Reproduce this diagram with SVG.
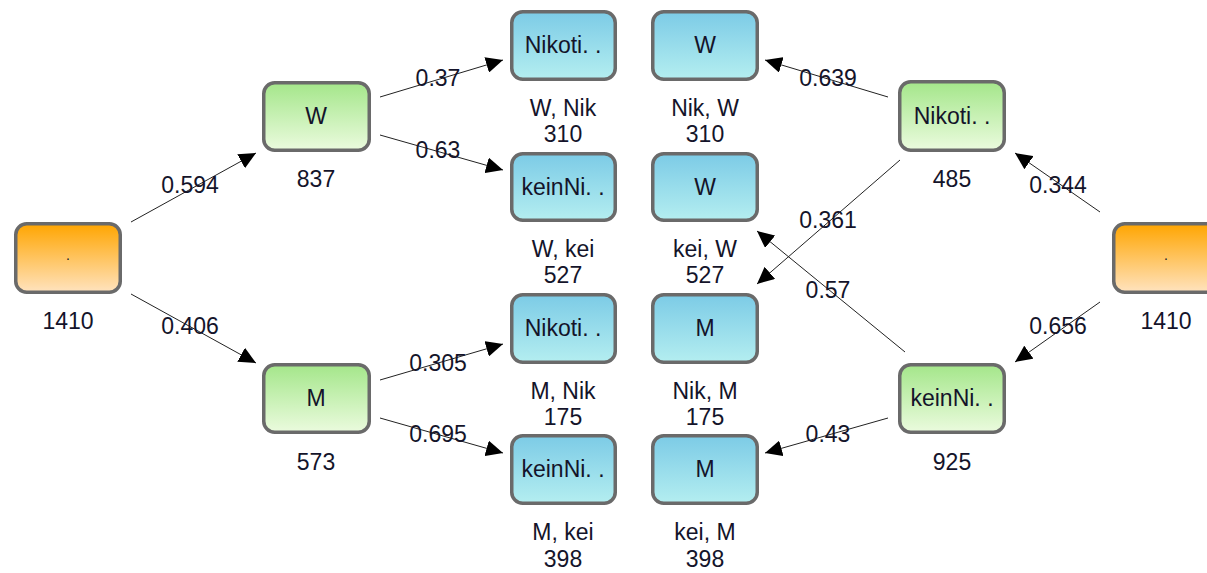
<svg xmlns="http://www.w3.org/2000/svg" width="1207" height="573" viewBox="0 0 1207 573">
  <defs>
    <linearGradient id="gOrange" x1="0" y1="0" x2="0" y2="1">
      <stop offset="0" stop-color="#ffa500"/>
      <stop offset="1" stop-color="#ffe3bf"/>
    </linearGradient>
    <linearGradient id="gGreen" x1="0" y1="0" x2="0" y2="1">
      <stop offset="0" stop-color="#a4e68a"/>
      <stop offset="1" stop-color="#ebfbde"/>
    </linearGradient>
    <linearGradient id="gBlue" x1="0" y1="0" x2="0" y2="1">
      <stop offset="0" stop-color="#7ccbe6"/>
      <stop offset="1" stop-color="#b4eef0"/>
    </linearGradient>
    <marker id="arrow" markerUnits="userSpaceOnUse" markerWidth="18" markerHeight="16" refX="17" refY="8" orient="auto">
      <path d="M0,0 L17,8 L0,16 Z" fill="#000"/>
    </marker>
  </defs>
  <style>
    .box { stroke: #6a6a6a; stroke-width: 3.5; }
    .root { fill: url(#gOrange); }
    .mid { fill: url(#gGreen); }
    .leaf { fill: url(#gBlue); }
    text { font-family: "Liberation Sans", Arial, sans-serif; font-size: 23px; fill: #14142a; text-anchor: middle; }
    .dot { font-size: 14px; }
    .edge { stroke: #222; stroke-width: 1; fill: none; marker-end: url(#arrow); }
  </style>
  <rect width="1207" height="573" fill="#fff"/>

  <!-- connectors -->
  <g id="connectors">
    <line class="edge" x1="131" y1="222" x2="256" y2="153"/>
    <line class="edge" x1="131" y1="294" x2="256" y2="363"/>
    <line class="edge" x1="380" y1="97" x2="503" y2="60"/>
    <line class="edge" x1="380" y1="135" x2="503" y2="170"/>
    <line class="edge" x1="380" y1="380" x2="503" y2="344"/>
    <line class="edge" x1="380" y1="418" x2="503" y2="453"/>
    <line class="edge" x1="888" y1="97" x2="765" y2="60"/>
    <line class="edge" x1="900" y1="160" x2="757" y2="284"/>
    <line class="edge" x1="905" y1="352" x2="757" y2="231"/>
    <line class="edge" x1="888" y1="418" x2="765" y2="453"/>
    <line class="edge" x1="1100" y1="212" x2="1015" y2="153"/>
    <line class="edge" x1="1100" y1="302" x2="1015" y2="362"/>
    <text x="190" y="193">0.594</text>
    <text x="190" y="334">0.406</text>
    <text x="438" y="86">0.37</text>
    <text x="438" y="158">0.63</text>
    <text x="438" y="371">0.305</text>
    <text x="438" y="442">0.695</text>
    <text x="828" y="86">0.639</text>
    <text x="828" y="228">0.361</text>
    <text x="828" y="298">0.57</text>
    <text x="828" y="442">0.43</text>
    <text x="1058" y="193">0.344</text>
    <text x="1058" y="334">0.656</text>
  </g>

  <!-- left tree -->
  <g id="rootLeft">
    <rect class="box root" x="15.75" y="223.75" width="104.5" height="68.5" rx="11"/>
    <text class="dot" x="68" y="260">.</text>
    <text x="68" y="329">1410</text>
  </g>
  <g id="nodeW">
    <rect class="box mid" x="263.75" y="82.75" width="105.5" height="67.5" rx="11"/>
    <text x="316" y="124">W</text>
    <text x="316" y="187">837</text>
  </g>
  <g id="nodeM">
    <rect class="box mid" x="263.75" y="364.75" width="105.5" height="67.5" rx="11"/>
    <text x="316" y="406">M</text>
    <text x="316" y="470">573</text>
  </g>
  <g id="leafWNik">
    <rect class="box leaf" x="511.75" y="11.75" width="103.5" height="67.5" rx="11"/>
    <text x="563" y="53">Nikoti. .</text>
    <text x="563" y="116">W, Nik</text>
    <text x="563" y="142">310</text>
  </g>
  <g id="leafWKei">
    <rect class="box leaf" x="511.75" y="153.75" width="103.5" height="66.5" rx="11"/>
    <text x="563" y="195">keinNi. .</text>
    <text x="563" y="257">W, kei</text>
    <text x="563" y="283">527</text>
  </g>
  <g id="leafMNik">
    <rect class="box leaf" x="511.75" y="294.75" width="103.5" height="67.5" rx="11"/>
    <text x="563" y="336">Nikoti. .</text>
    <text x="563" y="399">M, Nik</text>
    <text x="563" y="425">175</text>
  </g>
  <g id="leafMKei">
    <rect class="box leaf" x="511.75" y="435.75" width="103.5" height="67.5" rx="11"/>
    <text x="563" y="477">keinNi. .</text>
    <text x="563" y="540">M, kei</text>
    <text x="563" y="567">398</text>
  </g>

  <!-- right tree -->
  <g id="leafNikW">
    <rect class="box leaf" x="652.75" y="11.75" width="104.5" height="67.5" rx="11"/>
    <text x="705" y="53">W</text>
    <text x="705" y="116">Nik, W</text>
    <text x="705" y="142">310</text>
  </g>
  <g id="leafKeiW">
    <rect class="box leaf" x="652.75" y="153.75" width="104.5" height="66.5" rx="11"/>
    <text x="705" y="195">W</text>
    <text x="705" y="257">kei, W</text>
    <text x="705" y="283">527</text>
  </g>
  <g id="leafNikM">
    <rect class="box leaf" x="652.75" y="294.75" width="104.5" height="67.5" rx="11"/>
    <text x="705" y="336">M</text>
    <text x="705" y="399">Nik, M</text>
    <text x="705" y="425">175</text>
  </g>
  <g id="leafKeiM">
    <rect class="box leaf" x="652.75" y="435.75" width="104.5" height="67.5" rx="11"/>
    <text x="705" y="477">M</text>
    <text x="705" y="540">kei, M</text>
    <text x="705" y="567">398</text>
  </g>
  <g id="nodeNik">
    <rect class="box mid" x="899.75" y="81.75" width="104.5" height="68.5" rx="11"/>
    <text x="952" y="124">Nikoti. .</text>
    <text x="952" y="187">485</text>
  </g>
  <g id="nodeKein">
    <rect class="box mid" x="899.75" y="364.75" width="104.5" height="67.5" rx="11"/>
    <text x="952" y="406">keinNi. .</text>
    <text x="952" y="470">925</text>
  </g>
  <g id="rootRight">
    <rect class="box root" x="1113.75" y="223.75" width="104.5" height="68.5" rx="11"/>
    <text class="dot" x="1166" y="260">.</text>
    <text x="1166" y="329">1410</text>
  </g>
</svg>
